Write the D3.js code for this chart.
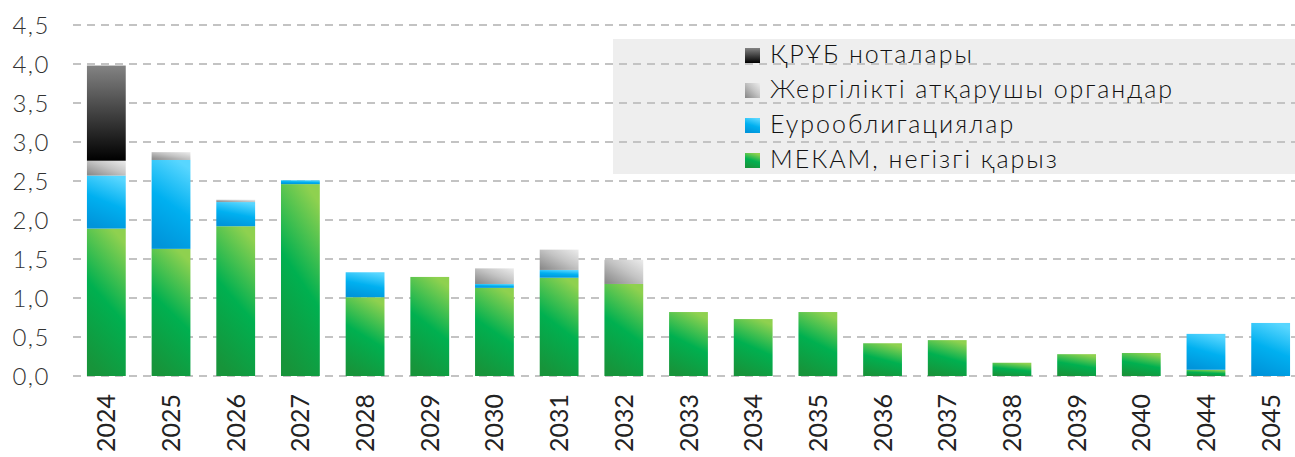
<!DOCTYPE html>
<html>
<head>
<meta charset="utf-8">
<script src="https://cdn.jsdelivr.net/npm/d3@7"></script>
<style>
  html, body { margin: 0; padding: 0; background: #fff; }
  svg { display: block; }
</style>
</head>
<body>
<div id="chart"></div>
<script>
  // DATA
  const years = ["2024", "2025", "2026", "2027", "2028", "2029", "2030", "2031", "2032", "2033",
                 "2034", "2035", "2036", "2037", "2038", "2039", "2040", "2044", "2045"];
  const mekam = [1.89, 1.63, 1.92, 2.46, 1.01, 1.27, 1.13, 1.26, 1.18, 0.82,
                 0.73, 0.82, 0.42, 0.46, 0.17, 0.28, 0.295, 0.08, 0];
  const euro  = [0.68, 1.14, 0.31, 0.05, 0.32, 0, 0.05, 0.10, 0, 0,
                 0, 0, 0, 0, 0, 0, 0, 0.46, 0.68];
  const local = [0.19, 0.10, 0.03, 0, 0, 0, 0.20, 0.26, 0.31, 0,
                 0, 0, 0, 0, 0, 0, 0, 0, 0];
  const notes = [1.22, 0, 0, 0, 0, 0, 0, 0, 0, 0,
                 0, 0, 0, 0, 0, 0, 0, 0, 0];
  const yTicks = [0, 0.5, 1, 1.5, 2, 2.5, 3, 3.5, 4, 4.5];

  const seriesKeys = ["mekam", "euro", "local", "notes"];
  const seriesLabels = {
    notes: "ҚРҰБ ноталары",
    local: "Жергілікті атқарушы органдар",
    euro: "Еурооблигациялар",
    mekam: "МЕКАМ, негізгі қарыз"
  };

  const W = 1295, H = 457;
  const FONT = "Lato, 'Open Sans', sans-serif";

  const table = years.map((y, i) => ({
    year: y, mekam: mekam[i], euro: euro[i], local: local[i], notes: notes[i]
  }));
  const stacked = d3.stack().keys(seriesKeys)(table);

  const x = d3.scaleBand().domain(years).range([74, 1303]).paddingInner(0.4).paddingOuter(0.2);
  const y = d3.scaleLinear().domain([0, 4.5]).range([376, 25]);

  const svg = d3.select("#chart").append("svg")
    .attr("width", W)
    .attr("height", H);

  // GRADIENTS
  const defs = svg.append("defs");
  const grads = {
    mekam: { x1: 0.35, y1: 1, x2: 0.65, y2: 0, stops: [[0, "#17943a"], [0.5, "#00b050"], [1, "#8fd14f"]] },
    euro:  { x1: 0.35, y1: 1, x2: 0.65, y2: 0, stops: [[0, "#0094da"], [0.5, "#00b0f0"], [1, "#58d6ff"]] },
    local: { x1: 0, y1: 1, x2: 1, y2: 0, stops: [[0, "#858585"], [0.55, "#c4c4c4"], [1, "#ececec"]] },
    notes: { x1: 0, y1: 1, x2: 0, y2: 0, stops: [[0, "#000000"], [1, "#838383"]] }
  };
  Object.entries(grads).forEach(([k, g]) => {
    const lg = defs.append("linearGradient")
      .attr("id", "grad-" + k)
      .attr("x1", g.x1).attr("y1", g.y1)
      .attr("x2", g.x2).attr("y2", g.y2);
    g.stops.forEach(s => lg.append("stop").attr("offset", s[0]).attr("stop-color", s[1]));
  });

  // LEGEND BOX (behind the grid)
  svg.append("rect")
    .attr("x", 613)
    .attr("y", 39)
    .attr("width", W - 613)
    .attr("height", 135)
    .style("fill", "#eeeeee");

  // GRID LINES
  svg.append("g").selectAll("line")
    .data(yTicks)
    .join("line")
    .attr("x1", 73)
    .attr("x2", W)
    .attr("y1", d => y(d))
    .attr("y2", d => y(d))
    .style("stroke", "#c3c3c3")
    .style("stroke-width", 2)
    .style("stroke-dasharray", "8,6");

  // Y TICK LABELS
  svg.append("g").selectAll("text")
    .data(yTicks)
    .join("text")
    .attr("x", 50)
    .attr("y", d => y(d))
    .attr("dy", "0.36em")
    .attr("text-anchor", "end")
    .text(d => d3.format(".1f")(d).replace(".", ","))
    .style("font-family", FONT)
    .style("font-weight", 300)
    .style("font-size", "24px")
    .style("letter-spacing", "1.5px")
    .style("fill", "#333");

  // BARS
  svg.append("g").selectAll("g")
    .data(stacked)
    .join("g")
    .attr("fill", d => `url(#grad-${d.key})`)
    .selectAll("rect")
    .data(d => d.filter(p => p[1] - p[0] > 0))
    .join("rect")
    .attr("x", d => x(d.data.year))
    .attr("y", d => y(d[1]))
    .attr("width", x.bandwidth())
    .attr("height", d => y(d[0]) - y(d[1]));

  // X LABELS
  svg.append("g").selectAll("text")
    .data(years)
    .join("text")
    .attr("transform", d => `translate(${x(d) + x.bandwidth() / 2},394) rotate(-90)`)
    .attr("dy", "0.36em")
    .attr("text-anchor", "end")
    .text(d => d)
    .style("font-family", FONT)
    .style("font-size", "25px")
    .style("fill", "#222");

  // LEGEND ITEMS
  const legendOrder = ["notes", "local", "euro", "mekam"];
  const legend = svg.append("g").selectAll("g")
    .data(legendOrder)
    .join("g")
    .attr("transform", (d, i) => `translate(745,${63 + i * 35})`);

  legend.append("rect")
    .attr("x", 0)
    .attr("y", -15)
    .attr("width", 15)
    .attr("height", 15)
    .attr("fill", d => `url(#grad-${d})`);

  legend.append("text")
    .attr("x", 25)
    .attr("y", 0)
    .text(d => seriesLabels[d])
    .style("font-family", FONT)
    .style("font-weight", 300)
    .style("font-size", "25px")
    .style("letter-spacing", "2px")
    .style("fill", "#111");
</script>
</body>
</html>
